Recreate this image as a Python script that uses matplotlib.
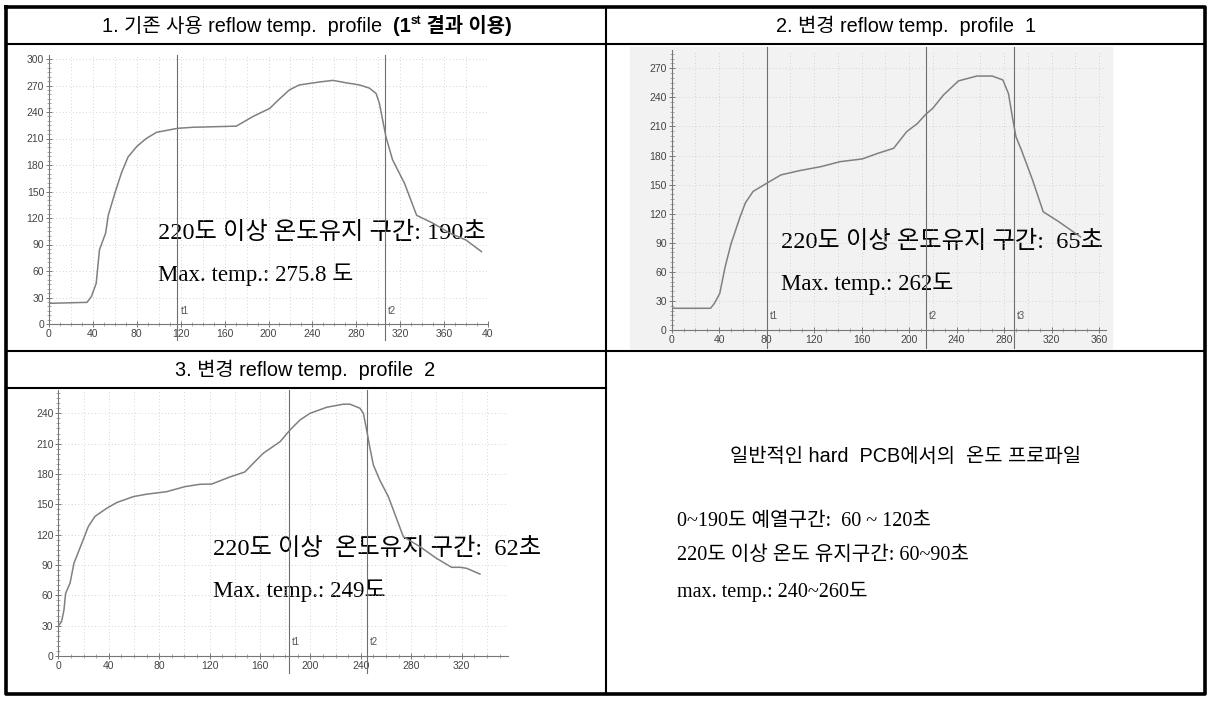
import matplotlib
matplotlib.use("Agg")
import matplotlib.pyplot as plt
from matplotlib.ticker import MultipleLocator, FixedLocator

W, H, DPI = 1213, 702, 100

# ---- data ----
p1_time = [0, 34.6, 38.6, 43, 46, 51.6, 54, 60, 66, 72, 80, 88.6, 98, 117, 131, 170.7,
           186, 201, 209, 219, 228, 246.6, 258.7, 271, 283, 292, 298, 301, 304, 307,
           313, 324, 335, 350, 365, 380, 394]
p1_temp = [23.4, 24.5, 31, 46, 84, 103, 123, 148, 171, 189, 201, 210, 217, 221.5, 222.7, 224,
           235, 244, 253.6, 265, 270.6, 274, 275.8, 273, 270.6, 267, 261, 250, 231, 212,
           186, 159, 123, 114, 103, 95, 82]
p1_marks = [117, 306]

p2_time = [0, 32.7, 36, 40.5, 45, 50, 57.7, 62, 68.6, 79.5, 92, 107.6, 126, 142, 160.6,
           173, 187, 198, 207, 213.6, 220, 229, 241.6, 257, 270, 279, 283.7, 287, 290,
           294.6, 304, 313, 325.8, 344.5]
p2_temp = [22.4, 22.4, 27.5, 37.8, 65, 89, 117, 131, 143, 151, 160, 164.4, 168.6, 173.7, 176.5,
           182, 187.5, 204.7, 213, 222, 228.8, 242.5, 257, 262, 262, 258, 244, 220, 199.5,
           185.8, 154.8, 122, 112, 96]
p2_marks = [80, 214, 288]

p3_time = [0, 2.6, 4.5, 5.8, 9.3, 12.4, 18.5, 23.8, 29, 38.3, 46.3, 59.5, 70, 86, 100.5,
           112.4, 121.6, 136, 148, 154.7, 162.6, 176, 183.8, 191.7, 199.7, 213, 226, 231.4,
           239.3, 242, 244.6, 247, 249.9, 255, 261.8, 273.7, 287, 300, 312, 318.7, 324, 334.5]
p3_temp = [29.7, 34, 45.5, 62, 72, 91.7, 111, 128, 138, 146, 151.7, 157.6, 160, 162.5, 167.5,
           169.8, 170, 177, 182, 190.6, 200.5, 212, 223.5, 233.4, 240, 246, 249, 249,
           245, 240, 223.5, 207, 189, 174, 157.6, 118, 108, 96.6, 87.7, 87.7, 86.7, 81]
p3_marks = [183, 245]

titles = ["2. 변경 reflow temp.  profile  1", "3. 변경 reflow temp.  profile  2"]
notes = ["일반적인 hard  PCB에서의  온도 프로파일",
         "0~190도 예열구간:  60 ~ 120초",
         "220도 이상 온도 유지구간: 60~90초",
         "max. temp.: 240~260도"]

SERIF = ["Liberation Serif", "Noto Sans CJK KR"]
SANS = ["Liberation Sans", "Noto Sans CJK KR"]

fig = plt.figure(figsize=(W / DPI, H / DPI), dpi=DPI)
frame = fig.add_axes([0, 0, 1, 1])
frame.set_xlim(0, W); frame.set_ylim(H, 0); frame.axis("off")

# scanned background of panel 2
frame.add_patch(plt.Rectangle((630, 47), 482, 301, color="#f2f2f2", zorder=0))


def make_panel(x0, x1, xv1, y0, ytop, yv1, xmax, ymax, xticks, xlabels, yticks,
               time, temp, marks, line_top, line_bot):
    # x0/y0: pixel of the data origin, x1: pixel of x=xv1, ytop: pixel of y=yv1
    sx = (x1 - x0) / xv1
    sy = (y0 - ytop) / yv1
    ax = fig.add_axes([x0 / W, 1 - y0 / H, xmax * sx / W, ymax * sy / H])
    ax.set_xlim(0, xmax); ax.set_ylim(0, ymax)
    ax.patch.set_alpha(0)
    for s in ["top", "right"]:
        ax.spines[s].set_visible(False)
    for s in ["left", "bottom"]:
        ax.spines[s].set_color("#777777"); ax.spines[s].set_linewidth(0.8)
    ax.xaxis.set_major_locator(FixedLocator(xticks))
    ax.set_xticklabels(xlabels)
    ax.xaxis.set_minor_locator(MultipleLocator(10))
    ax.yaxis.set_major_locator(FixedLocator(yticks))
    ax.yaxis.set_minor_locator(MultipleLocator(5))
    ax.tick_params(which="major", direction="inout", length=5, width=0.7, color="#777777",
                   labelsize=7.5, labelcolor="#444444", pad=1)
    ax.tick_params(which="minor", direction="inout", length=3, width=0.5, color="#888888")
    for lab in ax.get_xticklabels() + ax.get_yticklabels():
        lab.set_family(SANS)
    for gx in range(20, int(xmax) + 1, 20):
        ax.axvline(gx, color="#c8c8c8", lw=0.6, ls=(0, (1, 3)), zorder=0)
    for gy in yticks[1:]:
        ax.axhline(gy, color="#c8c8c8", lw=0.6, ls=(0, (1, 3)), zorder=0)
    ax.plot(time, temp, color="#808080", lw=1.1, zorder=3)
    bot = -(line_bot - y0) / sy
    top = (y0 - line_top) / sy
    for i, m in enumerate(marks):
        ax.plot([m, m], [bot, top], color="#6e6e6e", lw=0.8, clip_on=False, zorder=2)
        ax.text(m + 3 / sx, 9, "t%d" % (i + 1), fontsize=7, color="#555555",
                family=SANS, ha="left", va="bottom")
    return ax


make_panel(49, 488, 400, 324, 59, 300, 400, 304,
           list(range(0, 401, 40)), [str(v) for v in range(0, 361, 40)] + ["40"],
           list(range(0, 301, 30)), p1_time, p1_temp, p1_marks, 55, 340)

make_panel(671.7, 1099, 360, 330, 68.3, 270, 366, 289,
           list(range(0, 361, 40)), [str(v) for v in range(0, 361, 40)],
           list(range(0, 271, 30)), p2_time, p2_temp, p2_marks, 47, 348)

make_panel(58.3, 461.7, 320, 656, 413.3, 240, 357, 263,
           list(range(0, 361, 40)), [str(v) for v in range(0, 321, 40)] + ["3"],
           list(range(0, 241, 30)), p3_time, p3_temp, p3_marks, 390, 673)

# annotations in the plots
big, mid = 17.5, 16.5
frame.text(158, 233, "220도 이상 온도유지 구간: 190초", fontsize=big, family=SERIF, va="center")
frame.text(158, 275, "Max. temp.: 275.8 도", fontsize=mid, family=SERIF, va="center")
frame.text(781, 242, "220도 이상 온도유지 구간:  65초", fontsize=big, family=SERIF, va="center")
frame.text(781, 284, "Max. temp.: 262도", fontsize=mid, family=SERIF, va="center")
frame.text(213, 549, "220도 이상  온도유지 구간:  62초", fontsize=big, family=SERIF, va="center")
frame.text(213, 591, "Max. temp.: 249도", fontsize=mid, family=SERIF, va="center")

# headers
hsize = 14.3
renderer = fig.canvas.get_renderer()
parts = [("1. 기존 사용 reflow temp.  profile  ", hsize, 0, "normal"),
         ("(1", hsize, 0, "bold"),
         ("st", hsize * 0.6, 5, "bold"),
         (" 결과 이용)", hsize, 0, "bold")]
objs = [frame.text(0, 26, s, fontsize=fs, family=SANS, va="center", fontweight=fw)
        for s, fs, _, fw in parts]
widths = [o.get_window_extent(renderer).width for o in objs]
x = 307 - sum(widths) / 2
for o, w, (s, fs, dy, fw) in zip(objs, widths, parts):
    o.set_x(x); o.set_y(26 - dy)
    x += w
frame.text(906, 26, titles[0], fontsize=hsize, family=SANS, ha="center", va="center")
frame.text(305, 370, titles[1], fontsize=hsize, family=SANS, ha="center", va="center")

# general profile notes
frame.text(906, 457, notes[0], fontsize=hsize, family=SANS, ha="center", va="center")
for s, yy in zip(notes[1:], [521, 556, 592]):
    frame.text(677, yy, s, fontsize=14.5, family=SERIF, va="center")

# table lines
outer = dict(color="black", lw=2.6, solid_capstyle="projecting")
inner = dict(color="black", lw=1.5)
frame.plot([5.5, 1205, 1205, 5.5, 5.5], [6.5, 6.5, 694, 694, 6.5], **outer)
frame.plot([606, 606], [6.5, 694], **inner)
frame.plot([5.5, 1205], [43.5, 43.5], **inner)
frame.plot([5.5, 1205], [351, 351], **inner)
frame.plot([5.5, 606], [388, 388], **inner)

fig.savefig("out.png", dpi=DPI)
